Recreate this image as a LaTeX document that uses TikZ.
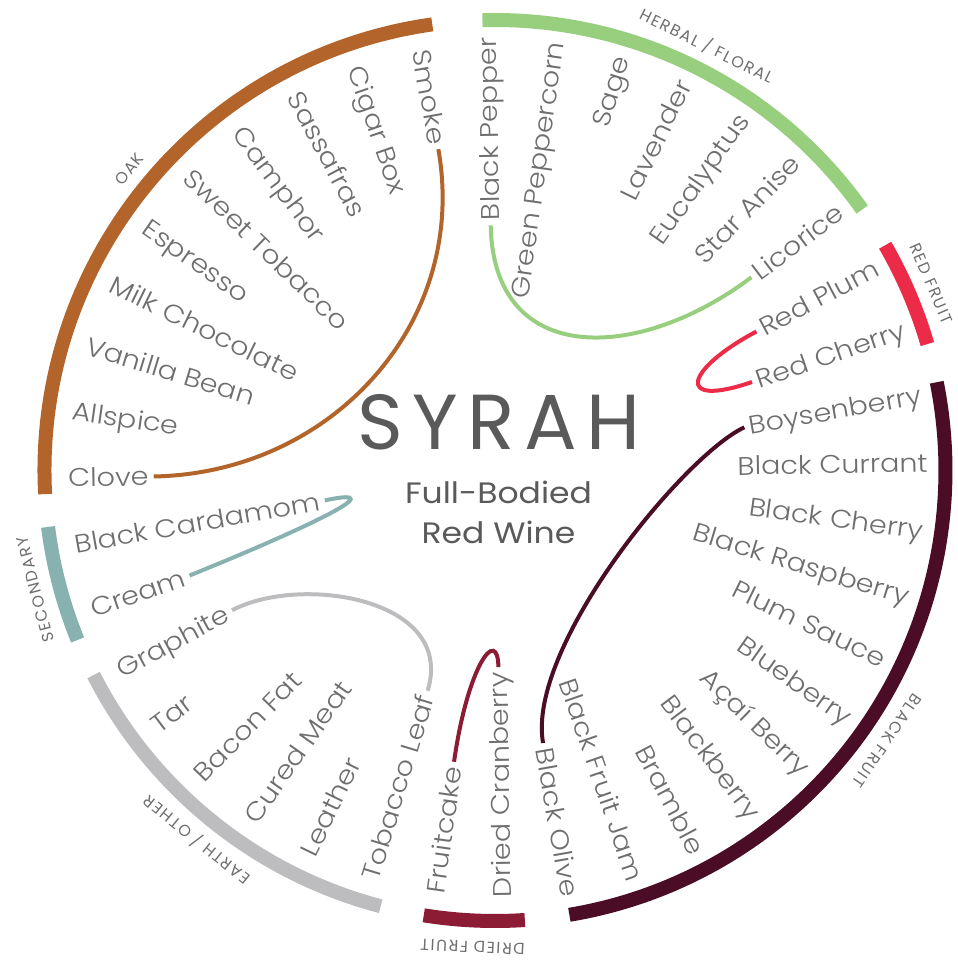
\documentclass[tikz,border=0pt]{standalone}
\usepackage{fontspec}
\usetikzlibrary{positioning}
\setmainfont{Poppins}
\newfontfamily\wordfont{Poppins Light}[FakeStretch=1.12]
\newfontfamily\catfont{Poppins}[LetterSpace=10]
\newfontfamily\titlefont{Poppins}[LetterSpace=12]
\newfontfamily\subfont{Poppins}[FakeStretch=1.12]

\definecolor{oak}{HTML}{B3642B}
\definecolor{herbal}{HTML}{97CF7E}
\definecolor{redfruit}{HTML}{EC2B48}
\definecolor{blackfruit}{HTML}{4B0D25}
\definecolor{driedfruit}{HTML}{8C1B34}
\definecolor{earth}{HTML}{BDBDBF}
\definecolor{secondary}{HTML}{88B2B0}
\definecolor{wordgray}{HTML}{6E6E6E}
\definecolor{titlegray}{HTML}{5A5A5A}

\tikzset{
  word/.style={font=\wordfont\fontsize{25.5}{25.5}\selectfont, text=wordgray,
    inner sep=2pt, text height=17.8pt, text depth=0pt},
  rw/.style={word, anchor=east, rotate=#1},
  lw/.style={word, anchor=west, rotate=#1},
  cat/.style={font=\catfont\fontsize{16}{16}\selectfont, text=wordgray,
    inner sep=0pt, text height=11.2pt, text depth=0pt, rotate=#1},
  band/.style={line width=14pt},
  link/.style={line width=4pt, shorten <=3pt, shorten >=3pt}
}

\begin{document}
\begin{tikzpicture}[x=1pt, y=1pt]

  \useasboundingbox (-495,-490.5) rectangle (463,470.5);

  % outer bands
  \begin{scope}[band]
    \draw[oak]        (98:450.5)    arc[start angle=98,    end angle=183,    radius=450.5pt];
    \draw[herbal]     (35.4:450.5)  arc[start angle=35.4,  end angle=91.6,   radius=450.5pt];
    \draw[redfruit]   (16.3:450.5)  arc[start angle=16.3,  end angle=30,     radius=450.5pt];
    \draw[blackfruit] (-80.5:450.5) arc[start angle=-80.5, end angle=11.3,   radius=450.5pt];
    \draw[driedfruit] (-99.1:450.5) arc[start angle=-99.1, end angle=-86.2,  radius=450.5pt];
    \draw[earth]      (-153:450.5)  arc[start angle=-153,  end angle=-104.7, radius=450.5pt];
    \draw[secondary]  (187.2:450.5) arc[start angle=187.2, end angle=202.1,  radius=450.5pt];
  \end{scope}

  % group names
  \node[cat=50.5]   (oaklbl)    at (140.5:474) {OAK};
  \node[cat=-26.5]  (herballbl) at (63.5:474)  {HERBAL / FLORAL};
  \node[cat=-66.8]  (redlbl)    at (23.2:475)  {RED FRUIT};
  \node[cat=-124.6] (blacklbl)  at (-34.6:476) {BLACK FRUIT};
  \node[cat=-182.7] (driedlbl)  at (-92.7:477) {DRIED FRUIT};
  \node[cat=-218.9] (earthlbl)  at (-128.9:475) {EARTH / OTHER};
  \node[cat=104.5]  (seclbl)    at (194.5:475) {SECONDARY};

  % right half, read outwards
  \node[rw=91]  (blackpepper)    at (91:435)  {Black Pepper};
  \node[rw=82]  (greenpeppercorn) at (82:435) {Green Peppercorn};
  \node[rw=73]  (sage)           at (73:435)  {Sage};
  \node[rw=64]  (lavender)       at (64:435)  {Lavender};
  \node[rw=55]  (eucalyptus)     at (55:435)  {Eucalyptus};
  \node[rw=46]  (staranise)      at (46:435)  {Star Anise};
  \node[rw=37]  (licorice)       at (37:435)  {Licorice};
  \node[rw=28]  (redplum)        at (28:435)  {Red Plum};
  \node[rw=19]  (redcherry)      at (19:435)  {Red Cherry};
  \node[rw=10]  (boysenberry)    at (10:435)  {Boysenberry};
  \node[rw=1]   (blackcurrant)   at (1:435)   {Black Currant};
  \node[rw=-8]  (blackcherry)    at (-8:435)  {Black Cherry};
  \node[rw=-17] (blackraspberry) at (-17:435) {Black Raspberry};
  \node[rw=-26] (plumsauce)      at (-26:435) {Plum Sauce};
  \node[rw=-35] (blueberry)      at (-35:435) {Blueberry};
  \node[rw=-44] (acaiberry)      at (-44:435) {Açaí Berry};
  \node[rw=-53] (blackberry)     at (-53:435) {Blackberry};
  \node[rw=-62] (bramble)        at (-62:435) {Bramble};
  \node[rw=-71] (blackfruitjam)  at (-71:435) {Black Fruit Jam};
  \node[rw=-80] (blackolive)     at (-80:435) {Black Olive};

  % left half, read inwards
  \node[lw=91]  (driedcranberry) at (-89:429)  {Dried Cranberry};
  \node[lw=82]  (fruitcake)      at (-98:429)  {Fruitcake};
  \node[lw=73]  (tobaccoleaf)    at (-107:429) {Tobacco Leaf};
  \node[lw=64]  (leather)        at (-116:429) {Leather};
  \node[lw=55]  (curedmeat)      at (-125:429) {Cured Meat};
  \node[lw=46]  (baconfat)       at (-134:429) {Bacon Fat};
  \node[lw=37]  (tar)            at (-143:429) {Tar};
  \node[lw=28]  (graphite)       at (-152:429) {Graphite};
  \node[lw=19]  (cream)          at (-161:429) {Cream};
  \node[lw=10]  (blackcardamom)  at (-170:429) {Black Cardamom};
  \node[lw=1]   (clove)          at (-179:429) {Clove};
  \node[lw=-8]  (allspice)       at (-188:429) {Allspice};
  \node[lw=-17] (vanillabean)    at (-197:429) {Vanilla Bean};
  \node[lw=-26] (milkchocolate)  at (-206:429) {Milk Chocolate};
  \node[lw=-35] (espresso)       at (-215:429) {Espresso};
  \node[lw=-44] (sweettobacco)   at (-224:429) {Sweet Tobacco};
  \node[lw=-53] (camphor)        at (-233:429) {Camphor};
  \node[lw=-62] (sassafras)      at (-242:429) {Sassafras};
  \node[lw=-71] (cigarbox)       at (-251:429) {Cigar Box};
  \node[lw=-80] (smoke)          at (-260:429) {Smoke};

  % links inside each group
  \draw[link, oak] (smoke.east) to[out=280, in=1, out distance=180pt, in distance=180pt] (clove.east);
  \draw[link, herbal] (blackpepper.west) to[out=271, in=217, out distance=145pt, in distance=145pt] (licorice.west);
  \draw[link, redfruit] (redplum.west) to[out=208, in=199, out distance=85pt, in distance=85pt] (redcherry.west);
  \draw[link, blackfruit] (boysenberry.west) to[out=205, in=100, out distance=70pt, in distance=100pt] (blackolive.west);
  \draw[link, driedfruit] (fruitcake.east) to[out=82, in=91, out distance=100pt, in distance=45pt] (driedcranberry.east);
  \draw[link, earth] (graphite.east) to[out=28, in=73, out distance=80pt, in distance=100pt] (tobaccoleaf.east);
  \draw[link, secondary] (cream.east) to[out=22, in=12, out distance=120pt, in distance=80pt] (blackcardamom.east);

  % centre
  \node[font=\titlefont\fontsize{78}{78}\selectfont, text=titlegray, inner sep=0pt,
    text height=54.5pt, text depth=0pt] (title) at (4,48) {SYRAH};
  \node[font=\subfont\fontsize{29.5}{29.5}\selectfont, text=titlegray, inner sep=0pt,
    text height=20.5pt, text depth=0pt] (body) at (3.5,-22.5) {Full-Bodied};
  \node[font=\subfont\fontsize{29.5}{29.5}\selectfont, text=titlegray, inner sep=0pt,
    text height=20.5pt, text depth=0pt, below=19.5pt of body] (wine) {Red Wine};

\end{tikzpicture}
\end{document}
